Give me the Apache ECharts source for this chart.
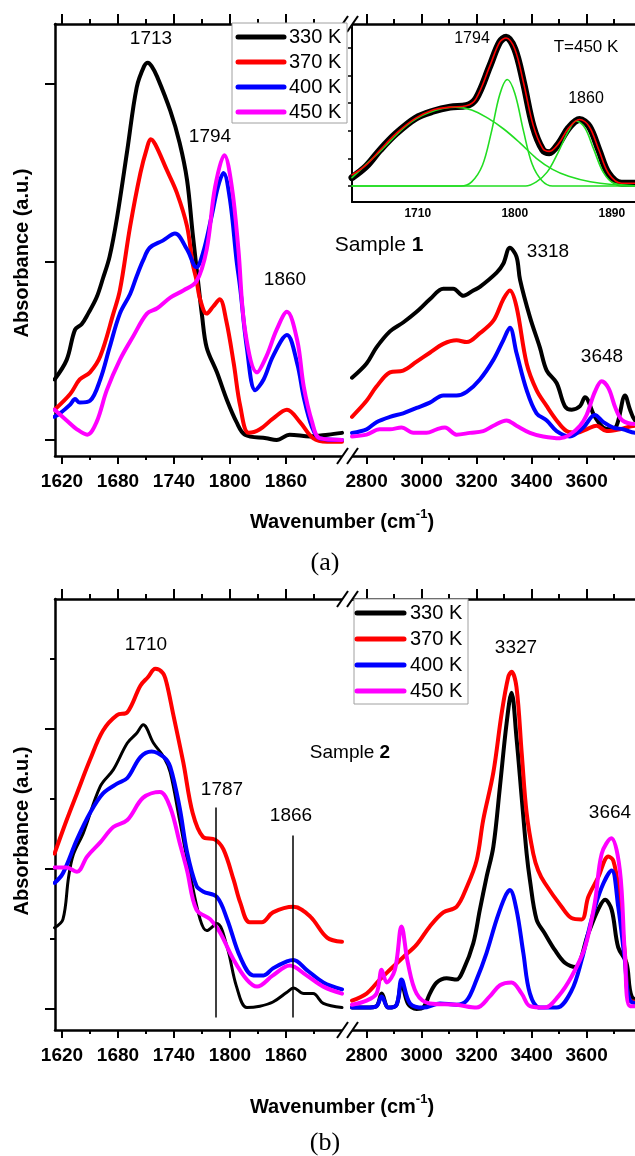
<!DOCTYPE html>
<html><head><meta charset="utf-8">
<script src="https://cdn.jsdelivr.net/npm/echarts@6/dist/echarts.min.js"></script>
<style>html,body{margin:0;padding:0;background:#fff}#c{width:635px;height:1156px}</style>
</head><body><div id="c"></div>
<script>
const FONT = '"Liberation Sans", Arial, Helvetica, sans-serif';
const COLORS = ['#000000', '#ff0000', '#0000ff', '#ff00ff'];
const seriesNames = ['330 K', '370 K', '400 K', '450 K'];

// ---- tick labels ----
const leftMajor = [1620, 1680, 1740, 1800, 1860];
const leftMinor = [1650, 1710, 1770, 1830, 1890];
const rightMajor = [2800, 3000, 3200, 3400, 3600];
const rightMinor = [2900, 3100, 3300, 3500, 3700];
const insetXTicks = [1710, 1800, 1890];
const insetYTicks = [0, 0.2, 0.4, 0.6, 0.8, 1.0];
const aYTicks = [0, 1, 2];
const bYMajor = [0, 1, 2];
const bYMinor = [0.5, 1.5, 2.5];

// ---- Panel (a), 1600-1920 region ----
const a1_330 = [[1612,0.34],[1625,0.45],[1634,0.62],[1641,0.65],[1648,0.71],[1657,0.80],[1664,0.91],[1671,1.03],[1679,1.25],[1690,1.63],[1700,1.98],[1708,2.10],[1712,2.12],[1716,2.10],[1722,2.04],[1736,1.85],[1746,1.67],[1754,1.46],[1760,1.16],[1766,0.88],[1770,0.70],[1775,0.52],[1786,0.38],[1797,0.22],[1807,0.10],[1816,0.03],[1839,0.01],[1850,0.0],[1864,0.03],[1886,0.02],[1905,0.03],[1920,0.04]];
const a1_370 = [[1612,0.17],[1629,0.26],[1639,0.34],[1650,0.38],[1661,0.47],[1675,0.71],[1682,0.84],[1693,1.20],[1704,1.50],[1711,1.64],[1715,1.69],[1720,1.66],[1732,1.52],[1743,1.39],[1754,1.20],[1760,0.99],[1764,0.90],[1768,0.79],[1775,0.71],[1782,0.75],[1789,0.79],[1796,0.67],[1804,0.43],[1811,0.19],[1820,0.04],[1832,0.06],[1846,0.12],[1861,0.17],[1875,0.10],[1889,0.01],[1904,-0.01],[1920,-0.01]];
const a1_400 = [[1612,0.13],[1618,0.15],[1629,0.20],[1634,0.23],[1639,0.21],[1650,0.22],[1661,0.34],[1671,0.52],[1682,0.71],[1693,0.82],[1700,0.92],[1707,1.01],[1714,1.08],[1728,1.12],[1741,1.16],[1754,1.07],[1764,0.97],[1771,1.05],[1780,1.25],[1787,1.42],[1793,1.50],[1800,1.35],[1807,1.01],[1811,0.85],[1818,0.52],[1827,0.28],[1836,0.34],[1846,0.47],[1861,0.59],[1872,0.43],[1879,0.24],[1888,0.07],[1896,0.01],[1920,0.0]];
const a1_450 = [[1612,0.17],[1625,0.11],[1636,0.06],[1647,0.03],[1657,0.10],[1668,0.28],[1682,0.45],[1696,0.58],[1711,0.71],[1722,0.74],[1736,0.80],[1750,0.84],[1764,0.89],[1775,1.07],[1784,1.42],[1794,1.60],[1802,1.42],[1809,1.07],[1816,0.62],[1829,0.38],[1839,0.47],[1850,0.62],[1861,0.72],[1872,0.56],[1879,0.30],[1888,0.10],[1896,0.01],[1920,0.0]];

// ---- Panel (a), 2750-3800 region ----
const a2_330 = [[2747,0.35],[2800,0.43],[2836,0.52],[2885,0.61],[2933,0.66],[2982,0.72],[3030,0.79],[3079,0.85],[3115,0.85],[3152,0.81],[3188,0.84],[3212,0.86],[3273,0.94],[3297,0.99],[3321,1.08],[3345,1.03],[3358,0.90],[3394,0.69],[3430,0.52],[3455,0.39],[3491,0.32],[3521,0.19],[3546,0.17],[3576,0.19],[3594,0.24],[3630,0.13],[3660,0.07],[3685,0.06],[3709,0.08],[3740,0.25],[3758,0.17],[3776,0.11],[3800,0.10]];
const a2_370 = [[2747,0.13],[2800,0.22],[2836,0.30],[2885,0.38],[2933,0.39],[2982,0.44],[3030,0.49],[3079,0.54],[3127,0.56],[3164,0.55],[3212,0.60],[3261,0.67],[3297,0.79],[3321,0.84],[3345,0.75],[3382,0.43],[3418,0.28],[3455,0.19],[3491,0.11],[3527,0.05],[3564,0.04],[3600,0.06],[3636,0.08],[3673,0.05],[3721,0.06],[3776,0.08],[3800,0.08]];
const a2_400 = [[2747,0.04],[2800,0.06],[2836,0.10],[2885,0.13],[2933,0.15],[2982,0.18],[3030,0.21],[3079,0.25],[3127,0.25],[3164,0.27],[3212,0.34],[3261,0.45],[3297,0.56],[3321,0.63],[3345,0.49],[3382,0.28],[3418,0.15],[3455,0.11],[3491,0.05],[3539,0.02],[3588,0.07],[3630,0.14],[3661,0.10],[3697,0.07],[3733,0.06],[3776,0.04],[3800,0.04]];
const a2_450 = [[2747,0.02],[2800,0.03],[2848,0.06],[2885,0.06],[2927,0.07],[2970,0.04],[3018,0.04],[3055,0.06],[3085,0.07],[3127,0.03],[3176,0.04],[3224,0.05],[3261,0.08],[3309,0.11],[3345,0.08],[3394,0.04],[3442,0.02],[3503,0.01],[3539,0.03],[3576,0.08],[3600,0.14],[3630,0.27],[3655,0.33],[3680,0.29],[3705,0.18],[3730,0.11],[3776,0.09],[3800,0.10]];

// ---- Inset (T = 450 K) ----
const insetData = [[1649,0.06],[1662,0.14],[1675,0.26],[1690,0.38],[1708,0.49],[1724,0.54],[1740,0.57],[1755,0.58],[1764,0.63],[1777,0.87],[1786,1.04],[1792,1.076],[1800,0.99],[1808,0.75],[1817,0.43],[1826,0.26],[1832,0.24],[1841,0.31],[1850,0.42],[1860,0.48],[1869,0.43],[1878,0.26],[1887,0.09],[1899,0.02],[1918,0.02]];
const insetFit = [[1649,0.08],[1662,0.15],[1675,0.26],[1690,0.38],[1708,0.49],[1724,0.55],[1740,0.57],[1755,0.58],[1764,0.63],[1777,0.87],[1786,1.04],[1792,1.07],[1800,0.99],[1808,0.75],[1817,0.44],[1826,0.27],[1832,0.25],[1841,0.31],[1850,0.42],[1860,0.48],[1869,0.43],[1878,0.26],[1887,0.09],[1899,0.02],[1918,0.02]];
const insetPeak1 = [[1649,0.06],[1675,0.25],[1700,0.44],[1720,0.53],[1745,0.57],[1760,0.55],[1775,0.49],[1790,0.41],[1805,0.31],[1820,0.20],[1835,0.12],[1850,0.07],[1870,0.03],[1890,0.01],[1918,0.0]];
const insetPeak2 = [[1649,0],[1750,0.0],[1760,0.03],[1770,0.15],[1778,0.38],[1786,0.66],[1793,0.77],[1800,0.67],[1808,0.40],[1816,0.16],[1825,0.04],[1835,0.0],[1918,0]];
const insetPeak3 = [[1649,0],[1810,0],[1820,0.03],[1830,0.10],[1840,0.24],[1850,0.40],[1857,0.47],[1865,0.42],[1873,0.27],[1882,0.10],[1892,0.02],[1918,0]];

// ---- Panel (b), 1600-1920 region ----
const b1_330 = [[1612,0.58],[1621,0.64],[1627,0.94],[1632,1.10],[1643,1.26],[1661,1.59],[1675,1.71],[1690,1.90],[1700,1.97],[1707,2.03],[1718,1.90],[1729,1.80],[1736,1.69],[1746,1.35],[1757,0.97],[1768,0.64],[1775,0.56],[1786,0.61],[1797,0.44],[1807,0.16],[1818,0.01],[1832,0.02],[1846,0.05],[1861,0.12],[1868,0.15],[1879,0.11],[1889,0.11],[1900,0.04],[1920,0.01]];
const b1_370 = [[1612,1.11],[1625,1.35],[1636,1.54],[1650,1.78],[1664,1.99],[1679,2.10],[1690,2.12],[1704,2.31],[1712,2.37],[1720,2.43],[1728,2.40],[1732,2.33],[1739,2.11],[1750,1.76],[1760,1.40],[1771,1.23],[1784,1.21],[1793,1.14],[1804,0.92],[1811,0.76],[1821,0.62],[1834,0.62],[1846,0.69],[1868,0.73],[1886,0.66],[1904,0.51],[1920,0.48]];
const b1_400 = [[1612,0.90],[1621,0.97],[1636,1.21],[1650,1.40],[1664,1.54],[1679,1.61],[1690,1.65],[1704,1.80],[1716,1.84],[1729,1.80],[1736,1.73],[1746,1.44],[1754,1.12],[1764,0.88],[1771,0.84],[1786,0.80],[1797,0.64],[1811,0.37],[1825,0.24],[1836,0.24],[1846,0.29],[1861,0.34],[1868,0.35],[1882,0.28],[1900,0.19],[1920,0.14]];
const b1_450 = [[1612,1.01],[1625,1.01],[1636,0.98],[1647,1.09],[1661,1.19],[1675,1.30],[1690,1.35],[1707,1.51],[1725,1.55],[1736,1.44],[1746,1.19],[1754,0.99],[1764,0.71],[1779,0.64],[1789,0.55],[1804,0.35],[1818,0.21],[1829,0.16],[1846,0.24],[1864,0.31],[1882,0.24],[1900,0.16],[1920,0.11]];

// ---- Panel (b), 2750-3800 region ----
const b2_330 = [[2747,0.01],[2800,0.01],[2836,0.02],[2855,0.11],[2879,0.01],[2909,0.03],[2927,0.19],[2950,0.04],[2982,0.0],[3006,0.01],[3030,0.11],[3055,0.19],[3091,0.22],[3127,0.21],[3152,0.28],[3188,0.47],[3212,0.71],[3236,0.94],[3261,1.16],[3285,1.59],[3309,2.04],[3327,2.26],[3345,1.94],[3364,1.51],[3382,1.11],[3394,0.92],[3418,0.64],[3448,0.54],[3485,0.42],[3521,0.33],[3558,0.30],[3606,0.54],[3642,0.71],[3667,0.78],[3691,0.71],[3715,0.44],[3745,0.33],[3764,0.09],[3800,0.05]];
const b2_370 = [[2747,0.06],[2800,0.11],[2848,0.21],[2885,0.28],[2933,0.37],[2982,0.46],[3030,0.59],[3079,0.69],[3127,0.73],[3164,0.87],[3200,1.06],[3224,1.35],[3261,1.69],[3291,2.11],[3315,2.37],[3327,2.41],[3345,2.30],[3364,1.83],[3382,1.40],[3406,1.11],[3424,0.99],[3448,0.90],[3509,0.73],[3545,0.65],[3582,0.64],[3606,0.80],[3642,0.94],[3679,1.09],[3697,1.06],[3715,0.87],[3739,0.40],[3758,0.06],[3800,0.05]];
const b2_400 = [[2747,0.01],[2800,0.01],[2836,0.02],[2855,0.09],[2879,0.01],[2909,0.03],[2927,0.21],[2958,0.04],[3006,0.01],[3067,0.04],[3127,0.03],[3164,0.06],[3200,0.21],[3236,0.40],[3273,0.64],[3303,0.80],[3321,0.85],[3345,0.71],[3370,0.40],[3394,0.11],[3430,0.01],[3491,0.01],[3545,0.13],[3582,0.35],[3618,0.64],[3655,0.87],[3691,0.99],[3715,0.73],[3739,0.35],[3758,0.06],[3800,0.04]];
const b2_450 = [[2747,0.03],[2800,0.06],[2836,0.11],[2855,0.28],[2873,0.19],[2903,0.28],[2927,0.59],[2950,0.33],[2982,0.11],[3030,0.04],[3127,0.03],[3200,0.01],[3248,0.09],[3285,0.17],[3327,0.19],[3364,0.11],[3394,0.02],[3448,0.01],[3497,0.09],[3545,0.23],[3594,0.44],[3630,0.76],[3655,1.11],[3690,1.22],[3721,0.99],[3739,0.40],[3758,0.02],[3800,0.02]];

// vertical marker lines in panel (b): [x, yBottom, yTop]
const bMarkers = [[1785, -0.06, 1.44], [1867, -0.06, 1.24]];

// ---------------------------------------------------------------
const chart = echarts.init(document.getElementById('c'), null, {renderer: 'canvas'});

const grids = [
  {left: 55, top: 24, width: 287, height: 432},     // a left
  {left: 352, top: 24, width: 289.6, height: 432},  // a right
  {left: 352, top: 24, width: 290, height: 178},    // inset
  {left: 55, top: 599, width: 287, height: 431},    // b left
  {left: 352, top: 599, width: 289.6, height: 431}  // b right
].map(g => Object.assign({show: false, containLabel: false, outerBoundsMode: 'none'}, g));

const plain = v => String(Math.round(v));
const xAxes = [];
const LINE = {color: '#000', width: 2.5};
function addX(g, min, max, pos, ticks, len, labels, drawLine) {
  xAxes.push({
    type: 'value', gridIndex: g, min, max, position: pos,
    splitLine: {show: false},
    axisLine: {show: drawLine, onZero: false, lineStyle: LINE},
    axisTick: {show: true, inside: false, length: len, customValues: ticks, lineStyle: {color: '#000', width: 2}},
    axisLabel: labels ? {show: true, customValues: ticks, margin: 16, color: '#000', formatter: plain,
      fontFamily: FONT, fontWeight: 'bold', fontSize: 19} : {show: false}
  });
  return xAxes.length - 1;
}
function mainX(g, min, max, majors, minors) {
  const i = addX(g, min, max, 'bottom', majors, 8, true, true);
  addX(g, min, max, 'bottom', minors, 4, false, false);
  addX(g, min, max, 'top', majors, 10, false, true);
  addX(g, min, max, 'top', minors, 5, false, false);
  return i;
}
const xa1 = mainX(0, 1612.5, 1920, leftMajor, leftMinor);
const xa2 = mainX(1, 2747, 3800, rightMajor, rightMinor);
xAxes.push({
  type: 'value', gridIndex: 2, min: 1649, max: 1918, position: 'bottom',
  splitLine: {show: false},
  axisLine: {show: true, onZero: false, lineStyle: {color: '#000', width: 2}},
  axisTick: {show: false},
  axisLabel: {show: true, customValues: insetXTicks, margin: 6, color: '#000', formatter: plain, fontFamily: FONT, fontWeight: 'bold', fontSize: 12}
});
const xin = xAxes.length - 1;
const xb1 = mainX(3, 1612.5, 1920, leftMajor, leftMinor);
const xb2 = mainX(4, 2747, 3800, rightMajor, rightMinor);

const yBase = {type: 'value', splitLine: {show: false}, axisLabel: {show: false}};
const yAxes = [
  Object.assign({}, yBase, {gridIndex: 0, min: -0.09, max: 2.337, position: 'left',
    axisLine: {show: true, onZero: false, lineStyle: LINE},
    axisTick: {show: true, length: 10, customValues: aYTicks, lineStyle: {color: '#000', width: 2}}}),
  Object.assign({}, yBase, {gridIndex: 1, min: -0.09, max: 2.337, show: false}),
  Object.assign({}, yBase, {gridIndex: 2, min: -0.116, max: 1.171, position: 'left',
    axisLine: {show: true, onZero: false, lineStyle: {color: '#000', width: 2}},
    axisTick: {show: true, length: 4, customValues: insetYTicks, lineStyle: {color: '#000', width: 1.5}}}),
  Object.assign({}, yBase, {gridIndex: 3, min: -0.15, max: 2.929, position: 'left',
    axisLine: {show: true, onZero: false, lineStyle: LINE},
    axisTick: {show: true, length: 10, customValues: bYMajor, lineStyle: {color: '#000', width: 2}}}),
  Object.assign({}, yBase, {gridIndex: 3, min: -0.15, max: 2.929, position: 'left',
    axisLine: {show: false, onZero: false},
    axisTick: {show: true, length: 5, customValues: bYMinor, lineStyle: {color: '#000', width: 2}}}),
  Object.assign({}, yBase, {gridIndex: 4, min: -0.15, max: 2.929, show: false})
];

function line(name, data, color, xi, yi, width, extra) {
  return Object.assign({
    type: 'line', name, data, xAxisIndex: xi, yAxisIndex: yi,
    showSymbol: false, symbol: 'none', smooth: 0.35,
    lineStyle: {color, width, cap: 'round', join: 'round'}, itemStyle: {color},
    animation: false, clip: true
  }, extra || {});
}

const series = [];
[a1_330, a1_370, a1_400, a1_450].forEach((d, i) => series.push(line(seriesNames[i], d, COLORS[i], xa1, 0, 4)));
[a2_330, a2_370, a2_400, a2_450].forEach((d, i) => series.push(line(seriesNames[i], d, COLORS[i], xa2, 1, 4)));
series.push(line('data', insetData, '#000', xin, 2, 7));
series.push(line('peak 1', insetPeak1, '#22dd22', xin, 2, 1.6));
series.push(line('peak 2', insetPeak2, '#22dd22', xin, 2, 1.6));
series.push(line('peak 3', insetPeak3, '#22dd22', xin, 2, 1.6));
series.push(line('fit', insetFit, '#ff0000', xin, 2, 1.6));
[b1_330, b1_370, b1_400, b1_450].forEach((d, i) => series.push(line(seriesNames[i], d, COLORS[i], xb1, 3, i === 0 ? 3 : 4)));
[b2_330, b2_370, b2_400, b2_450].forEach((d, i) => series.push(line(seriesNames[i], d, COLORS[i], xb2, 5, 4)));
// marker lines in (b)
series.push({
  type: 'line', data: [], xAxisIndex: xb1, yAxisIndex: 3, animation: false,
  markLine: {silent: true, symbol: ['none', 'none'], label: {show: false},
    lineStyle: {color: '#000', width: 1.5, type: 'solid'},
    data: bMarkers.map(m => [{coord: [m[0], m[1]]}, {coord: [m[0], m[2]]}])}
});

// ---- graphic: text, legends, axis breaks ----
const g = [];
function txt(x, y, text, size, opts) {
  g.push({type: 'text', x, y, z: 50, style: Object.assign({text, fill: '#000', font: (opts && opts.bold ? 'bold ' : '') + size + 'px ' + FONT,
    align: 'center', verticalAlign: 'middle'}, opts && opts.style || {}), rotation: opts && opts.rotation || 0});
}
// annotations panel (a)
txt(151, 39, '1713', 19); txt(210, 137, '1794', 19); txt(285, 280, '1860', 19);
txt(548, 252, '3318', 19); txt(602, 357, '3648', 19);
g.push({type: 'text', x: 379, y: 245, z: 50, style: {text: '{n|Sample }{b|1}', align: 'center', verticalAlign: 'middle',
  rich: {n: {fontFamily: FONT, fontSize: 21, fill: '#000'}, b: {fontFamily: FONT, fontSize: 21, fontWeight: 'bold', fill: '#000'}}}});
// inset labels
txt(472, 39, '1794', 16); txt(586, 99, '1860', 16); txt(586, 47, 'T=450 K', 17);
// annotations panel (b)
txt(146, 645, '1710', 19); txt(222, 790, '1787', 19); txt(291, 816, '1866', 19);
txt(516, 648, '3327', 19); txt(610, 813, '3664', 19);
g.push({type: 'text', x: 350, y: 753, z: 50, style: {text: '{n|Sample }{b|2}', align: 'center', verticalAlign: 'middle',
  rich: {n: {fontFamily: FONT, fontSize: 19, fill: '#000'}, b: {fontFamily: FONT, fontSize: 19, fontWeight: 'bold', fill: '#000'}}}});

// axis titles
[[520, 253, '(a)', 563], [1105, 831, '(b)', 1143]].forEach(([ty, ay, lab, ly]) => {
  g.push({type: 'text', x: 342, y: ty, z: 50, style: {text: '{b|Wavenumber (cm}{s|-1}{b|)}', align: 'center', verticalAlign: 'middle',
    rich: {b: {fontFamily: FONT, fontSize: 20, fontWeight: 'bold', fill: '#000', lineHeight: 24, verticalAlign: 'bottom'},
           s: {fontFamily: FONT, fontSize: 13, fontWeight: 'bold', fill: '#000', lineHeight: 24, verticalAlign: 'top'}}}});
  g.push({type: 'text', x: 22, y: ay, rotation: Math.PI / 2, z: 50, style: {text: 'Absorbance (a.u.)', fill: '#000',
    font: 'bold 20px ' + FONT, align: 'center', verticalAlign: 'middle'}});
  g.push({type: 'text', x: 325, y: ly, z: 50, style: {text: lab, fill: '#000', font: '26px "Liberation Serif", "DejaVu Serif", serif',
    align: 'center', verticalAlign: 'middle'}});
});

// legends
function legend(bx, by, bw, bh, lx1, lx2, tx, ys) {
  g.push({type: 'rect', z: 40, shape: {x: bx, y: by, width: bw, height: bh}, style: {fill: '#fff', stroke: '#a0a0a0', lineWidth: 1}});
  ys.forEach((y, i) => {
    g.push({type: 'line', z: 41, shape: {x1: lx1, y1: y, x2: lx2, y2: y}, style: {stroke: COLORS[i], lineWidth: 5, lineCap: 'round'}});
    g.push({type: 'text', z: 41, x: tx, y, style: {text: seriesNames[i], fill: '#000', font: '20px ' + FONT, align: 'left', verticalAlign: 'middle'}});
  });
}
legend(232, 23, 115, 100, 238, 284, 289, [37, 62, 87, 112]);
legend(354, 599, 114, 105, 357, 404, 410, [613, 639, 665, 691]);

// axis break marks
[24, 456, 599, 1030].forEach(y => {
  g.push({type: 'rect', z: 30, shape: {x: 342, y: y - 3, width: 10, height: 6}, style: {fill: '#fff'}});
  [0, 10].forEach(dx => g.push({type: 'line', z: 31, shape: {x1: 337 + dx, y1: y + 8, x2: 348 + dx, y2: y - 8},
    style: {stroke: '#000', lineWidth: 2}}));
});

chart.setOption({
  backgroundColor: '#fff',
  animation: false,
  grid: grids,
  xAxis: xAxes,
  yAxis: yAxes,
  series,
  graphic: g
});
</script>
</body></html>
